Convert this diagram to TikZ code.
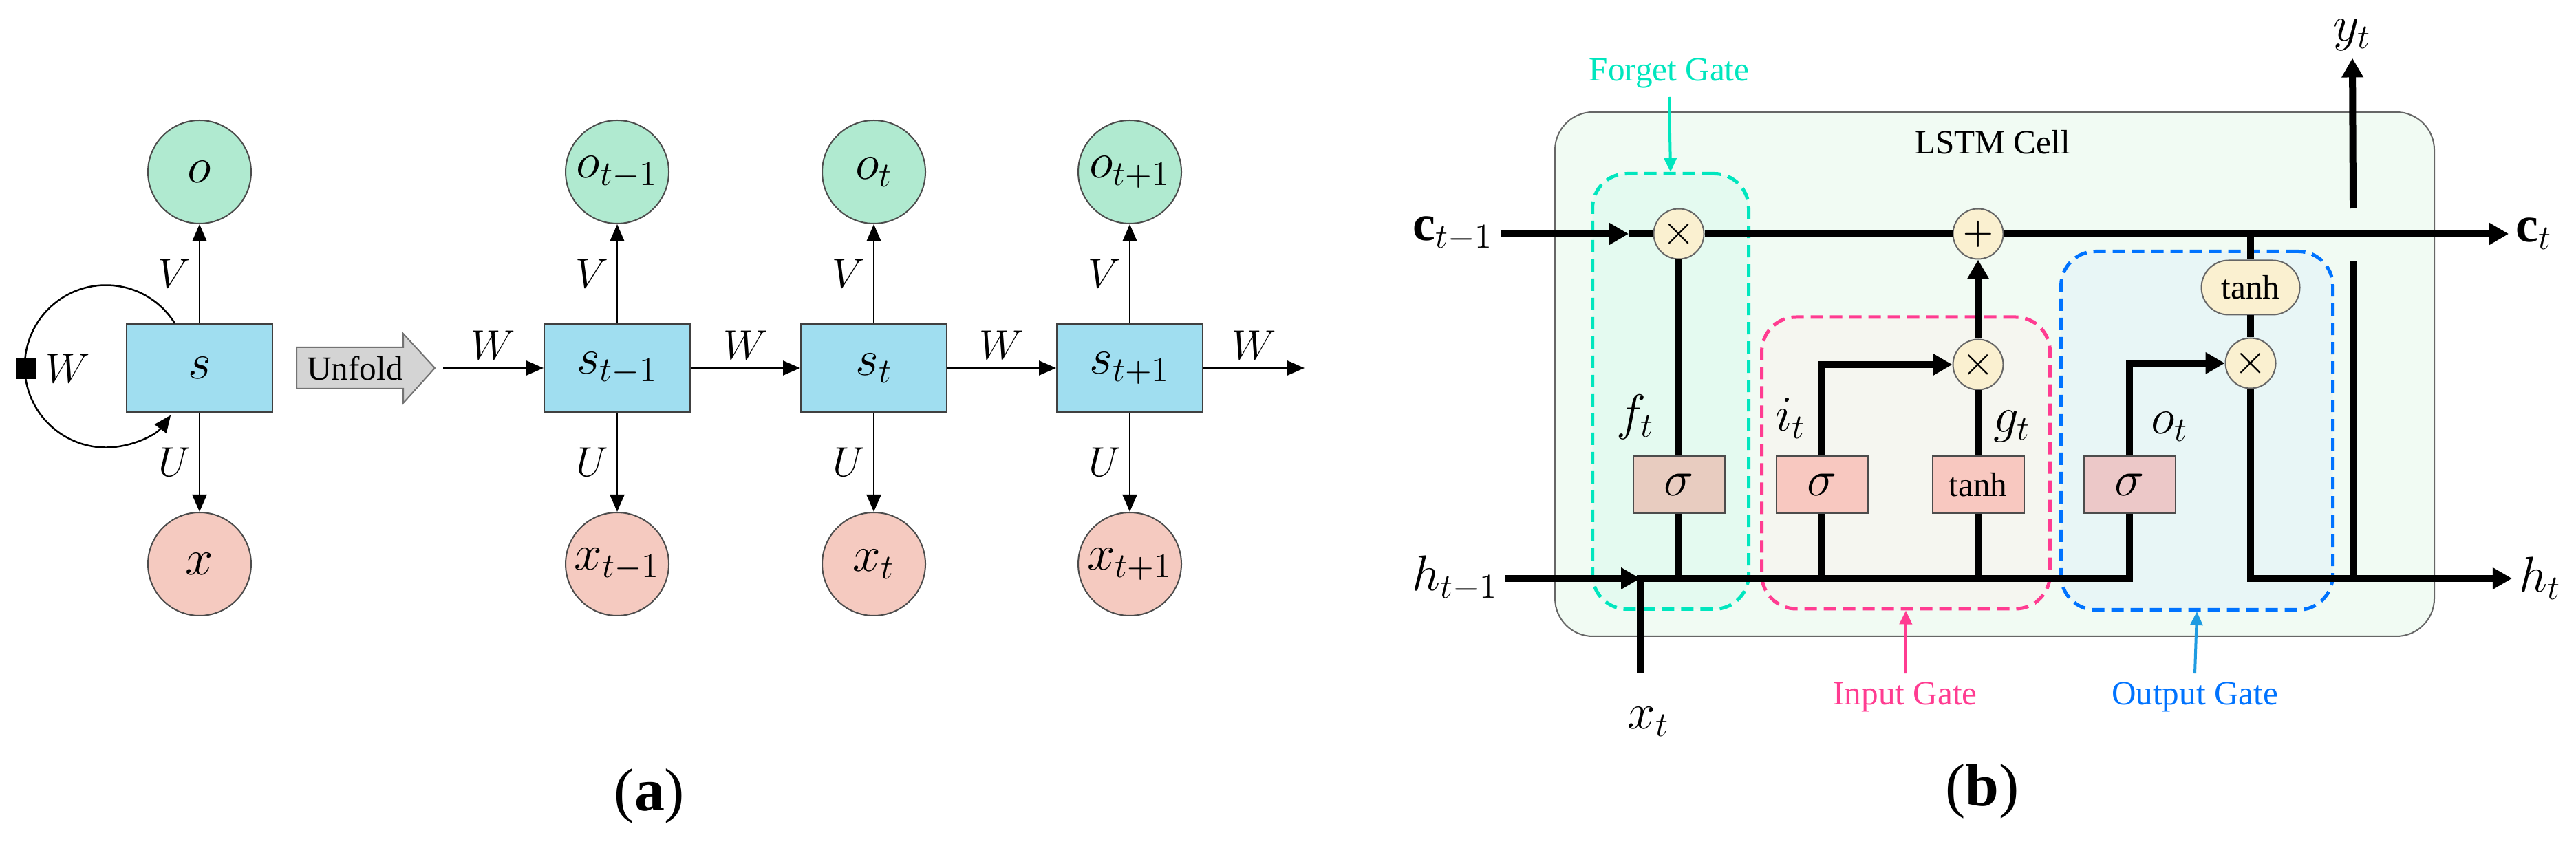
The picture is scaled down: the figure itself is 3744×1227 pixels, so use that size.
\documentclass[tikz,border=0pt]{standalone}
\usepackage{fontspec}
\setmainfont{Liberation Serif}
\usepackage{tikz}
\usetikzlibrary{arrows.meta, positioning, shapes.misc}

\definecolor{cellblue}{RGB}{160,222,240}
\definecolor{outgreen}{RGB}{176,234,208}
\definecolor{inpink}{RGB}{245,202,192}
\definecolor{unfoldgray}{RGB}{212,212,212}
\definecolor{lstmbg}{RGB}{241,251,243}
\definecolor{forgetfill}{RGB}{228,250,240}
\definecolor{inputfill}{RGB}{245,246,240}
\definecolor{outputfill}{RGB}{232,246,246}
\definecolor{forgetc}{RGB}{0,230,190}
\definecolor{inputc}{RGB}{255,60,145}
\definecolor{outputc}{RGB}{0,115,255}
\definecolor{outarrow}{RGB}{30,155,225}
\definecolor{opfill}{RGB}{250,240,208}
\definecolor{sigf}{RGB}{232,204,192}
\definecolor{sigi}{RGB}{248,200,192}
\definecolor{sigo}{RGB}{236,200,200}

\tikzset{
  rnncell/.style={draw=black!75, line width=0.2mm, fill=cellblue, minimum width=21.2mm,
                  minimum height=12.8mm, inner sep=0pt, font=\fontsize{22}{26}\selectfont},
  outnode/.style={circle, draw=black!70, line width=0.2mm, fill=outgreen, minimum size=15mm,
                  inner sep=0pt, font=\fontsize{22}{26}\selectfont},
  innode/.style={outnode, fill=inpink},
  wlabel/.style={font=\fontsize{17}{20}\selectfont},
  rnnarrow/.style={-{Triangle[length=2.5mm,width=2.1mm]}, line width=0.25mm},
  mlabel/.style={font=\fontsize{21}{25}\selectfont, inner sep=1mm},
  gatetext/.style={font=\fontsize{14}{17}\selectfont},
  gatebox/.style={rectangle, rounded corners=5mm, line width=0.5mm, dash pattern=on 1.8mm off 1mm,
                  inner sep=0pt},
  gatearrow/.style={-{Triangle[length=2mm,width=1.8mm]}, line width=0.4mm},
  opnode/.style={circle, draw=black!60, line width=0.2mm, fill=opfill, minimum size=7.3mm,
                 inner sep=0pt, font=\fontsize{18}{20}\selectfont},
  actbox/.style={draw=black!70, line width=0.2mm, minimum width=13.3mm, minimum height=8.3mm,
                 inner sep=0pt, font=\fontsize{21}{25}\selectfont},
  thickline/.style={line width=1mm},
  thickarrow/.style={line width=1mm, -{Triangle[length=2.8mm,width=3mm]}},
}

\begin{document}
\begin{tikzpicture}[x=0.1mm, y=-0.1mm]
\useasboundingbox (0,0) rectangle (3744,1227);

% (a) folded and unfolded RNN
\node[rnncell] (s) at (290,535) {$s$};
\node[outnode] (o) at (290,250) {$o$};
\node[innode] (x) at (290,820) {$x$};
\draw[rnnarrow] (s) -- (o) node[midway, left, wlabel] {$V$};
\draw[rnnarrow] (s) -- (x) node[midway, left, wlabel] {$U$};
\draw[rnnarrow] ([xshift=7.1mm]s.north west) arc[start angle=-32, end angle=-323, radius=118];
\node[fill=black, minimum size=3mm, inner sep=0pt] (loopsq) at (38,536) {};
\node[wlabel, right=0pt of loopsq] {$W$};

\draw[draw=black!55, line width=0.2mm, fill=unfoldgray]
  (431,505) -- (586,505) -- (586,485) -- (632,535) -- (586,586) -- (586,565) -- (431,565) -- cycle;
\node[gatetext] (unfold) at (516,535) {Unfold};

\node[rnncell] (s1) at (897,535)  {$s_{t-1}$};
\node[rnncell] (s2) at (1270,535) {$s_t$};
\node[rnncell] (s3) at (1642,535) {$s_{t+1}$};
\node[outnode] (o1) at (897,250)  {$o_{t-1}$};
\node[outnode] (o2) at (1270,250) {$o_t$};
\node[outnode] (o3) at (1642,250) {$o_{t+1}$};
\node[innode] (x1) at (897,820)  {$x_{t-1}$};
\node[innode] (x2) at (1270,820) {$x_t$};
\node[innode] (x3) at (1642,820) {$x_{t+1}$};
\coordinate (win) at (644,535);
\coordinate (wout) at (1896,535);

\foreach \i in {1,2,3} {
  \draw[rnnarrow] (s\i) -- (o\i) node[midway, left, wlabel] {$V$};
  \draw[rnnarrow] (s\i) -- (x\i) node[midway, left, wlabel] {$U$};
}
\draw[rnnarrow] (win) -- (s1) node[midway, above, wlabel] {$W$};
\draw[rnnarrow] (s1) -- (s2) node[midway, above, wlabel] {$W$};
\draw[rnnarrow] (s2) -- (s3) node[midway, above, wlabel] {$W$};
\draw[rnnarrow] (s3) -- (wout) node[midway, above, wlabel] {$W$};

\node[font=\fontsize{25}{30}\selectfont] (capa) at (944,1157) {(\textbf{a})};

% (b) LSTM cell
\node[draw=black!60, line width=0.2mm, fill=lstmbg, rounded corners=5.5mm,
      minimum width=127.8mm, minimum height=76.2mm] (cell) at (2899,544) {};
\node[gatetext] (celltext) at (2896,207) {LSTM Cell};

\node[gatebox, draw=forgetc, fill=forgetfill, minimum width=22.7mm, minimum height=63.3mm] (forget) at (2428,569) {};
\node[gatebox, draw=inputc, fill=inputfill, minimum width=41.9mm, minimum height=42.4mm] (input) at (2770,673) {};
\node[gatebox, draw=outputc, fill=outputfill, minimum width=39.5mm, minimum height=52.1mm] (output) at (3193,626) {};

\node[opnode] (fmul) at (2440,340) {$\times$};
\node[opnode] (cadd) at (2875,340) {$+$};
\node[opnode] (imul) at (2875,530) {$\times$};
\node[opnode] (omul) at (3271,528) {$\times$};

\node[actbox, fill=sigf] (fsig) at (2440,705) {$\sigma$};
\node[actbox, fill=sigi] (isig) at (2648,705) {$\sigma$};
\node[actbox, fill=sigi, font=\fontsize{14}{17}\selectfont] (gtanh) at (2875,705) {tanh};
\node[actbox, fill=sigo] (osig) at (3095,705) {$\sigma$};
\node[rounded rectangle, draw=black!60, line width=0.2mm, fill=opfill, minimum width=14.3mm,
      minimum height=7.9mm, inner sep=0pt, font=\fontsize{14}{17}\selectfont] (ctanh) at (3271,418) {tanh};

\node[mlabel] (cprev) at (2112,340) {$\mathbf{c}_{t-1}$};
\node[mlabel] (cnext) at (3683,340) {$\mathbf{c}_t$};
\node[mlabel] (hprev) at (2115,841) {$h_{t-1}$};
\node[mlabel] (hnext) at (3692,841) {$h_t$};
\node[mlabel] (xt) at (2396,1049) {$x_t$};
\node[mlabel] (yt) at (3419,51) {$y_t$};
\node[mlabel] at (2377,606) {$f_t$};
\node[mlabel] at (2602,608) {$i_t$};
\node[mlabel] at (2924,620) {$g_t$};
\node[mlabel] at (3153,620) {$o_t$};

\coordinate (cmid) at (2367,340);
\coordinate (hjoin) at (2384,841);
\coordinate (xin) at (2384,978);
\coordinate (yjoin) at (3420,841);
\coordinate (ylow) at (3420,380);
\coordinate (yhigh) at (3420,303);

% cell state
\draw[thickarrow] (cprev.east) -- (cmid);
\draw[thickline] (cmid) -- (fmul) -- (cadd);
\draw[thickarrow] (cadd) -- (cnext.west);
% hidden state and input
\draw[thickarrow] (hprev.east) -- (hjoin);
\draw[thickline] (xin) -- (hjoin) -- (hjoin -| osig) -- (osig.south);
\draw[thickline] (fsig.south) -- (fsig.south |- hjoin);
\draw[thickline] (isig.south) -- (isig.south |- hjoin);
\draw[thickline] (gtanh.south) -- (gtanh.south |- hjoin);
% gates
\draw[thickline] (fsig.north) -- (fmul.south);
\draw[thickarrow] (isig.north) |- (imul.west);
\draw[thickline] (gtanh.north) -- (imul.south);
\draw[thickarrow] (imul.north) -- (cadd.south);
\draw[thickarrow] (osig.north) |- (omul.west);
\draw[thickline] (ctanh.north |- cadd) -- (ctanh.north);
\draw[thickline] (ctanh.south) -- (omul.north);
\draw[thickarrow] (omul.south) |- (hnext.west);
\draw[thickline] (yjoin) -- (ylow);
\draw[thickarrow] (yhigh) -- (yt.south);

\node[gatetext, text=forgetc] (fgtext) at (2426,107) {Forget Gate};
\node[gatetext, text=inputc] (igtext) at (2769,1013) {Input Gate};
\node[gatetext, text=outputc] (ogtext) at (3190,1013) {Output Gate};
\draw[gatearrow, forgetc] (fgtext.south) -- (forget.north);
\draw[gatearrow, inputc] (igtext.north) -- (input.south);
\draw[gatearrow, outarrow] (ogtext.north) -- (output.south);

\node[font=\fontsize{25}{30}\selectfont] (capb) at (2881,1150) {(\textbf{b})};
\end{tikzpicture}
\end{document}
